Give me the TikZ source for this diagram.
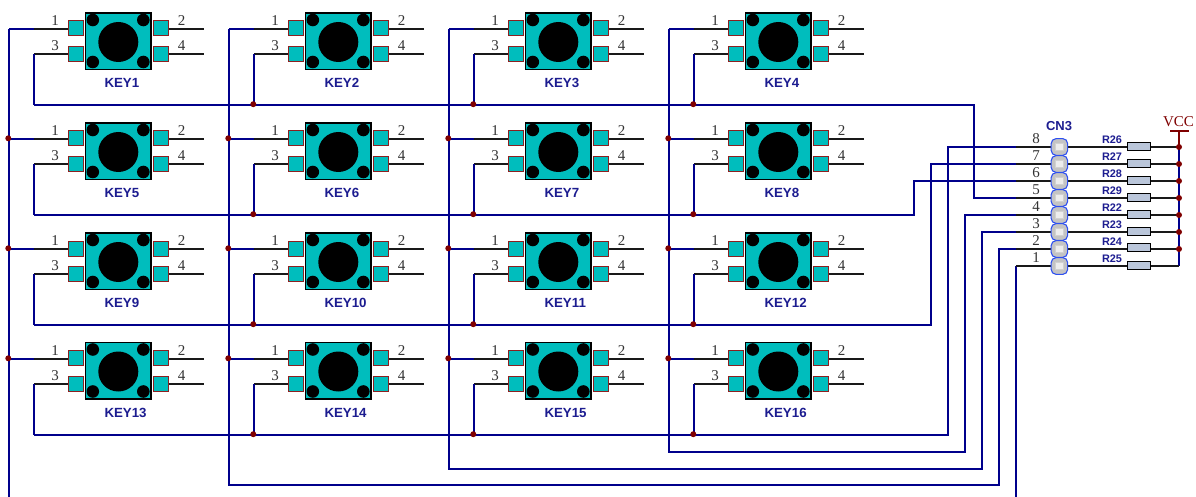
\documentclass[tikz,border=0pt]{standalone}
\usepackage{fontspec}
\setmainfont{Liberation Serif}
\setsansfont{Liberation Sans}
\definecolor{wire}{HTML}{00008C}
\definecolor{junc}{HTML}{7F0000}
\definecolor{teal}{HTML}{00BDBD}
\definecolor{padedge}{HTML}{8C2020}
\definecolor{lab}{HTML}{1C1C90}
\definecolor{resf}{HTML}{BAC6DA}
\definecolor{cnedge}{HTML}{2E50F0}
\definecolor{cnfill}{HTML}{C4C4C4}
\tikzset{
  x=1pt,y=-1pt,
  bluewire/.style={draw=wire,line width=1.7pt},
  blackwire/.style={draw=black!90,line width=1.7pt},
  dotj/.style={circle,fill=junc,inner sep=0pt,minimum size=6pt},
  body/.style={draw=black,line width=1.6pt,fill=teal,minimum width=65.5pt,minimum height=56.5pt,inner sep=0pt},
  pad/.style={draw=padedge,line width=1pt,fill=teal,minimum width=15pt,minimum height=15pt,inner sep=0pt},
  bighole/.style={circle,fill=black,inner sep=0pt,minimum size=40pt},
  hole/.style={circle,fill=black,inner sep=0pt,minimum size=12.6pt},
  pinnum/.style={font=\fontsize{15}{15}\selectfont,text=black!80,inner sep=0pt},
  keylab/.style={font=\sffamily\bfseries\fontsize{13.3}{13}\selectfont,text=lab,inner sep=0pt,anchor=west},
  reslab/.style={font=\sffamily\bfseries\fontsize{10.9}{11}\selectfont,text=lab,inner sep=0pt},
  resbox/.style={draw=black,line width=1pt,fill=resf,minimum width=23.5pt,minimum height=8pt,inner sep=0pt},
  cnpad/.style={draw=cnedge,line width=1.1pt,fill=cnfill,rounded corners=5pt,minimum width=16.5pt,minimum height=16.8pt,inner sep=0pt},
  cnhole/.style={draw=white!82!black,line width=.9pt,fill=white!93!black,minimum size=7.5pt,inner sep=0pt},
}
\begin{document}
\begin{tikzpicture}
\useasboundingbox (0,0) rectangle (1196,497);
% connector CN3 pins
\foreach \p/\y in {8/147,7/164,6/181,5/198,4/215,3/232,2/249,1/266}{
  \coordinate (cnw\p) at (1016,\y);
}
% routing coordinates
\coordinate (rowA) at (974,105);
\coordinate (rowB) at (914,215);
\coordinate (rowC) at (931,325);
\coordinate (rowD) at (948,435);
\coordinate (colD) at (965,452);
\coordinate (colC) at (982,469);
\coordinate (colB) at (999,485);
\coordinate (colAend) at (9,497);
\coordinate (cn1end) at (1016,497);
% keys
\foreach \r/\dy/\adj in {0/0/0,1/110/0,2/220/0,3/329.5/.5}{
  \foreach \c/\dx in {0/0,1/220,2/440,3/660}{
    \pgfmathtruncatemacro{\n}{\r*4+\c+1}
    \begin{scope}[shift={(\dx,\dy)}]
      \coordinate (pa\n) at (34,29+\adj);
      \coordinate (pb\n) at (34,54+\adj);
      \coordinate (cv\n) at (9,29+\adj);
      \coordinate (pc\n) at (204,29+\adj);
      \coordinate (pd\n) at (204,54+\adj);
      \node[pad] (l1\n) at (76.2,28.5) {};
      \node[pad] (l2\n) at (76.2,54) {};
      \node[pad] (r1\n) at (160.5,28.5) {};
      \node[pad] (r2\n) at (160.5,54) {};
      \node[body] (key\n) at (118.3,41.3) {};
      \node[bighole] (big\n) at (118.3,42) {};
      \node[hole] (ha\n) at (92.8,20) {};
      \node[hole] (hb\n) at (143.3,20) {};
      \node[hole] (hc\n) at (92.8,62) {};
      \node[hole] (hd\n) at (143.3,62) {};
      \draw[blackwire] (pa\n) -- (l1\n.west |- pa\n);
      \draw[blackwire] (pb\n) -- (l2\n.west |- pb\n);
      \draw[blackwire] (r1\n.east |- pc\n) -- (pc\n);
      \draw[blackwire] (r2\n.east |- pd\n) -- (pd\n);
      \node[pinnum] (na\n) at (55,21) {1};
      \node[pinnum] (nb\n) at (55,46) {3};
      \node[pinnum] (nc\n) at (181.7,21) {2};
      \node[pinnum] (nd\n) at (181.7,46) {4};
      \node[keylab] (lab\n) at (104.3,83) {KEY\n};
    \end{scope}
    \pgfmathsetmacro{\rowy}{\r==0 ? 105 : (\r==1 ? 215 : (\r==2 ? 325 : 435))}
    \coordinate (rv\n) at ({34+\dx},\rowy);
    \draw[bluewire] (pa\n) -- (cv\n);
    \draw[bluewire] (pb\n) -- (rv\n);
  }
}
% column wires
\draw[bluewire] (cv1) -- (colAend);
\draw[bluewire] (cv2) -- (cv2 |- colB) -- (colB) -- (cnw2 -| colB) -- (cnw2);
\draw[bluewire] (cv3) -- (cv3 |- colC) -- (colC) -- (cnw3 -| colC) -- (cnw3);
\draw[bluewire] (cv4) -- (cv4 |- colD) -- (colD) -- (cnw4 -| colD) -- (cnw4);
% row wires
\draw[bluewire] (rv1) -- (rowA) -- (cnw5 -| rowA) -- (cnw5);
\draw[bluewire] (rv5) -- (rowB) -- (cnw6 -| rowB) -- (cnw6);
\draw[bluewire] (rv9) -- (rowC) -- (cnw7 -| rowC) -- (cnw7);
\draw[bluewire] (rv13) -- (rowD) -- (cnw8 -| rowD) -- (cnw8);
\draw[bluewire] (cnw1) -- (cn1end);
% junctions
\foreach \k in {5,9,13,6,10,14,7,11,15,8,12,16}{
  \node[dotj] at ([xshift=-.7pt,yshift=.7pt]cv\k) {};
}
\foreach \k in {2,3,4,6,7,8,10,11,12,14,15,16}{
  \node[dotj] at ([xshift=-.7pt,yshift=.8pt]rv\k) {};
}
% VCC rail
\coordinate (vtop) at (1179,131);
\coordinate (vbot) at (1179,266);
\coordinate (vl) at (1170,131);
\coordinate (vr) at (1189,131);
\draw[draw=junc,line width=1.7pt] (vl) -- (vr);
\draw[draw=junc,line width=1.7pt] (vtop) -- (cnw8 -| vtop);
\draw[bluewire] (cnw8 -| vtop) -- (vbot);
\node[font=\fontsize{15}{15}\selectfont,text=junc,inner sep=0pt] (vcc) at (1178.5,122) {VCC};
% connector and resistors
\node[font=\sffamily\bfseries\fontsize{13}{13}\selectfont,text=lab,inner sep=0pt] (cn3lab) at (1059,126.3) {CN3};
\foreach \p/\y/\rn/\ry in {8/147/R26/146.7,7/164/R27/163.3,6/181/R28/180.7,5/198/R29/197.3,4/215/R22/214.3,3/232/R23/231,2/249/R24/247.7,1/266/R25/265}{
  \coordinate (ra\p) at (1127,\y);
  \coordinate (rb\p) at (1150.5,\y);
  \coordinate (rc\p) at (1179,\y);
  \draw[blackwire] (cnw\p) -- (ra\p);
  \draw[blackwire] (rb\p) -- (rc\p);
  \node[resbox] (res\p) at (1138.8,\ry) {};
  \node[cnpad] (cn\p) at (1059.4,\y) {};
  \node[cnhole] (cnh\p) at (1059.3,\y) {};
  \node[pinnum] (cnn\p) at (1036,\y-8) {\p};
  \node[reslab] (rl\p) at (1112,\y-7) {\rn};
}
\foreach \p in {8,7,6,5,4,3,2}{
  \node[dotj] at (rc\p) {};
}
\end{tikzpicture}
\end{document}
